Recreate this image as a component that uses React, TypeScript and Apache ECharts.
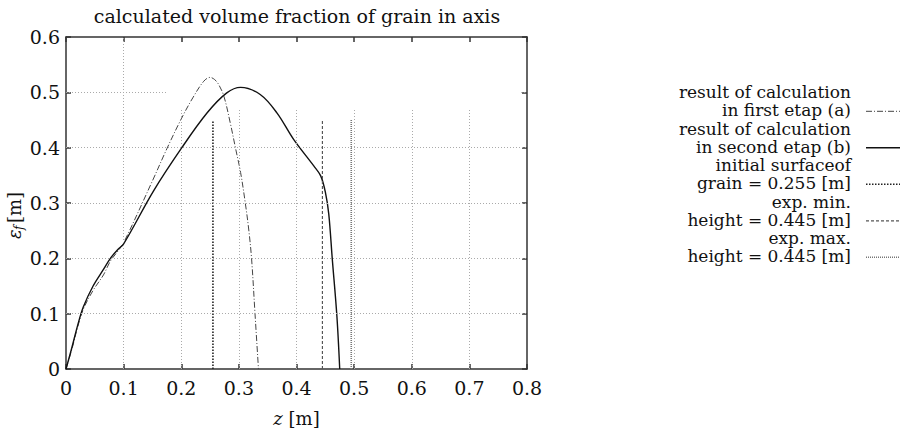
import React, { useEffect, useRef } from "react";
import * as echarts from "echarts";

// curve (a): result of calculation in first etap
const zA = [0, 0.01, 0.02, 0.03, 0.047, 0.065, 0.077, 0.09, 0.1, 0.15, 0.175, 0.2, 0.22, 0.239, 0.25, 0.258, 0.265, 0.274, 0.285, 0.294, 0.303, 0.311, 0.317, 0.322, 0.328, 0.334];
const vA = [0, 0.035, 0.075, 0.108, 0.142, 0.17, 0.195, 0.213, 0.228, 0.34, 0.398, 0.452, 0.49, 0.52, 0.527, 0.523, 0.514, 0.493, 0.445, 0.4, 0.355, 0.301, 0.253, 0.2, 0.1, 0];
// curve (b): result of calculation in second etap
const zB = [0, 0.01, 0.02, 0.03, 0.047, 0.065, 0.077, 0.09, 0.1, 0.152, 0.201, 0.245, 0.279, 0.303, 0.337, 0.366, 0.395, 0.43, 0.442, 0.45, 0.456, 0.462, 0.47, 0.475];
const vB = [0, 0.038, 0.078, 0.112, 0.15, 0.18, 0.2, 0.216, 0.226, 0.322, 0.4, 0.463, 0.499, 0.509, 0.496, 0.463, 0.415, 0.367, 0.349, 0.32, 0.28, 0.2, 0.097, 0];
// vertical reference lines
const grainZ = 0.255;
const expMinZ = 0.445;
const expMaxZ = 0.495;
const refTop = 0.45;

const xTickValues = [0, 0.1, 0.2, 0.3, 0.4, 0.5, 0.6, 0.7, 0.8];
const yTickValues = [0, 0.1, 0.2, 0.3, 0.4, 0.5, 0.6];

const title = "calculated volume fraction of grain in axis";
const legendRows = [
  ["result of calculation", "in first etap (a)"],
  ["result of calculation", "in second etap (b)"],
  ["initial surfaceof", "grain = 0.255 [m]"],
  ["exp. min.", "height = 0.445 [m]"],
  ["exp. max.", "height = 0.445 [m]"],
];

const FONT = "DejaVu Serif";

const styles = [
  { color: "#444", width: 1, type: [6, 2, 1, 2] },
  { color: "#111", width: 1.4, type: "solid" },
  { color: "#222", width: 1.6, type: [1.5, 1.5] },
  { color: "#555", width: 1.2, type: [3, 2] },
  { color: "#777", width: 1.6, type: [1, 1] },
];

function fmt(v: number) {
  return v === 0 ? "0" : (Math.round(v * 10) / 10).toFixed(1);
}

export default function App() {
  const ref = useRef<HTMLDivElement>(null);
  useEffect(() => {
    if (!ref.current) return;
    const chart = echarts.init(ref.current, null, { renderer: "svg" });
    const gridStyle = { color: "#aaa", width: 1, type: [1, 2] as any };
    const gridSegs: any[] = [];
    yTickValues.forEach((y) => {
      if (y === 0 || y === 0.6) return;
      if (y === 0.5) {
        gridSegs.push([{ coord: [0, y] }, { coord: [0.175, y] }]);
        gridSegs.push([{ coord: [0.79, y] }, { coord: [0.8, y] }]);
      } else {
        gridSegs.push([{ coord: [0, y] }, { coord: [0.8, y] }]);
      }
    });
    xTickValues.forEach((x) => {
      if (x === 0 || x === 0.8) return;
      if (x === 0.1) gridSegs.push([{ coord: [x, 0] }, { coord: [x, 0.6] }]);
      else gridSegs.push([{ coord: [x, 0] }, { coord: [x, 0.47] }]);
    });

    const mk = (zs: number[], vs: number[]) => zs.map((z, i) => [z, vs[i]]);
    const lineSeries = (name: string, data: any[], s: any, smooth: any) => ({
      name,
      type: "line",
      data,
      showSymbol: false,
      symbol: "none",
      smooth,
      lineStyle: { color: s.color, width: s.width, type: s.type },
      silent: true,
      z: 3,
    });

    const txt = (x: number, y: number, text: string, size: number, extra: any = {}) => ({
      type: "text",
      x,
      y,
      style: {
        text,
        fill: "#111",
        fontFamily: FONT,
        fontSize: size,
        textAlign: "right",
        textVerticalAlign: "middle",
        ...extra,
      },
    });

    const graphics: any[] = [];
    legendRows.forEach((r, i) => {
      const y1 = 92 + i * 36.5;
      const y2 = 110.3 + i * 36.5;
      graphics.push(txt(851, (y1 + y2) / 2, r[0] + "\n" + r[1], 17, { lineHeight: 18.3 }));
      const s = styles[i];
      graphics.push({
        type: "line",
        shape: { x1: 866, y1: y2 + 1, x2: 900, y2: y2 + 1 },
        style: {
          stroke: s.color,
          lineWidth: s.width,
          lineDash: s.type === "solid" ? null : s.type,
        },
      });
    });
    // y axis name (rotated)
    graphics.push({
      type: "group",
      x: 14,
      y: 211,
      rotation: Math.PI / 2,
      children: [
        txt(-28, 0, "ε", 18, { textAlign: "left", fontStyle: "italic" }),
        txt(-19, 5, "f", 12, { textAlign: "left", fontStyle: "italic" }),
        txt(-12, 0, "[m]", 18, { textAlign: "left" }),
      ],
    });

    const axisCommon = {
      min: 0,
      interval: 0.1,
      axisLine: { show: true, onZero: false, lineStyle: { color: "#333", width: 1.5 } },
      axisTick: { show: true, inside: true, length: 5, lineStyle: { color: "#333", width: 1.5 } },
      splitLine: { show: false },
    };

    chart.setOption({
      animation: false,
      backgroundColor: "#fff",
      title: {
        text: title,
        left: 292,
        top: 1,
        textAlign: "center",
        textStyle: { fontFamily: FONT, fontSize: 19, fontWeight: "normal", color: "#111" },
      },
      grid: { left: 66, top: 37, width: 461, height: 334 },
      xAxis: [
        {
          ...axisCommon,
          type: "value",
          max: 0.8,
          position: "bottom",
          axisLabel: { formatter: fmt, fontFamily: FONT, fontSize: 19, color: "#111", margin: 9 },
          name: "{i|z} [m]",
          nameLocation: "middle",
          nameGap: 40,
          nameTextStyle: {
            fontFamily: FONT,
            fontSize: 18,
            color: "#111",
            rich: { i: { fontFamily: FONT, fontSize: 18, fontStyle: "italic", color: "#111" } },
          },
        },
        {
          ...axisCommon,
          type: "value",
          max: 0.8,
          position: "top",
          axisLabel: { show: false },
        },
      ],
      yAxis: [
        {
          ...axisCommon,
          type: "value",
          max: 0.6,
          position: "left",
          axisLabel: { formatter: fmt, fontFamily: FONT, fontSize: 19, color: "#111", margin: 6 },
        },
        {
          ...axisCommon,
          type: "value",
          max: 0.6,
          position: "right",
          axisLabel: { show: false },
        },
      ],
      graphic: graphics,
      series: [
        {
          type: "line",
          data: [],
          silent: true,
          z: 1,
          markLine: {
            silent: true,
            symbol: "none",
            label: { show: false },
            lineStyle: gridStyle,
            data: gridSegs,
            animation: false,
          },
        },
        lineSeries("a", mk(zA, vA), styles[0], 0.35),
        lineSeries("b", mk(zB, vB), styles[1], 0.35),
        lineSeries("grain", [[grainZ, 0], [grainZ, refTop]], styles[2], false),
        lineSeries("expmin", [[expMinZ, 0], [expMinZ, refTop]], styles[3], false),
        lineSeries("expmax", [[expMaxZ, 0], [expMaxZ, refTop]], styles[4], false),
      ],
    });
    return () => chart.dispose();
  }, []);
  return <div ref={ref} style={{ position: "fixed", left: 0, top: 0, width: 903, height: 432 }} />;
}
